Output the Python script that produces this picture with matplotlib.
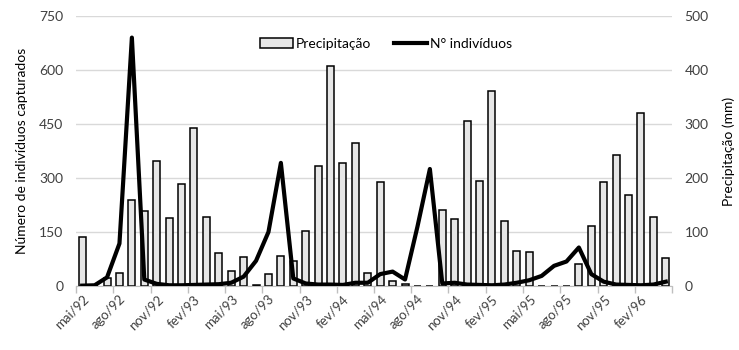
import matplotlib.pyplot as plt
import matplotlib.transforms as mtransforms
import numpy as np

plt.rcParams['font.family'] = ['Lato', 'DejaVu Sans']

# meses de mai/92 a abr/96
meses = ["mai/92", "jun/92", "jul/92", "ago/92", "set/92", "out/92", "nov/92", "dez/92",
         "jan/93", "fev/93", "mar/93", "abr/93", "mai/93", "jun/93", "jul/93", "ago/93",
         "set/93", "out/93", "nov/93", "dez/93", "jan/94", "fev/94", "mar/94", "abr/94",
         "mai/94", "jun/94", "jul/94", "ago/94", "set/94", "out/94", "nov/94", "dez/94",
         "jan/95", "fev/95", "mar/95", "abr/95", "mai/95", "jun/95", "jul/95", "ago/95",
         "set/95", "out/95", "nov/95", "dez/95", "jan/96", "fev/96", "mar/96", "abr/96"]

# precipitação (mm)
precipitacao = [90, 0, 15, 25, 160, 138, 231, 126, 188, 293, 128, 62,
                28, 54, 2, 22, 56, 46, 102, 223, 408, 228, 264, 24,
                192, 10, 3, 0, 0, 140, 125, 306, 195, 362, 120, 65,
                63, 0, 0, 0, 40, 112, 192, 243, 168, 320, 127, 52]

# número de indivíduos capturados
individuos = [1, 2, 24, 118, 690, 18, 6, 2, 2, 3, 4, 5,
              9, 26, 70, 150, 342, 21, 7, 4, 4, 3, 9, 9,
              33, 40, 18, 165, 325, 7, 9, 4, 3, 2, 4, 9,
              16, 28, 56, 68, 107, 33, 12, 4, 3, 2, 4, 12]

x = np.arange(len(meses))
cor_texto = '#404040'

fig = plt.figure(figsize=(7.39, 3.5), dpi=100)
ax = fig.add_axes([76 / 739, 64 / 350, 596 / 739, 270 / 350])
ax2 = ax.twinx()

# barras no eixo de trás (direita), linha na frente (esquerda)
barras = ax.bar(x, precipitacao, width=0.56, color='#e6e6e6', edgecolor='black',
                linewidth=1.1, label='Precipitação', zorder=2)
ax.set_ylim(0, 500)
ax.set_yticks(np.arange(0, 501, 100))
ax.yaxis.tick_right()
ax.yaxis.set_label_position('right')
ax.set_ylabel('Precipitação (mm)', fontsize=10, color='black', labelpad=10)
ax.grid(axis='y', color='#d9d9d9', linewidth=1, zorder=0)
ax.set_axisbelow(True)

linha, = ax2.plot(x, individuos, color='black', linewidth=3, solid_joinstyle='round',
                  label='N° indivíduos', zorder=3)
ax2.set_ylim(0, 750)
ax2.set_yticks(np.arange(0, 751, 150))
ax2.yaxis.tick_left()
ax2.yaxis.set_label_position('left')
ax2.set_ylabel('Número de indivíduos capturados', fontsize=10, color='black', labelpad=8)

ax.set_xlim(-0.5, len(meses) - 0.5)
ax.set_xticks(x[::3])
ax.set_xticklabels(meses[::3], rotation=45, ha='right', rotation_mode='anchor',
                   fontsize=9.5, color=cor_texto)
desloc = mtransforms.ScaledTranslation(4 / 100, -1 / 100, fig.dpi_scale_trans)
for rotulo in ax.get_xticklabels():
    rotulo.set_transform(rotulo.get_transform() + desloc)
ax.set_xticks(np.arange(-0.5, len(meses), 3), minor=True)
ax.tick_params(axis='x', which='major', length=0, pad=5)
ax.tick_params(axis='x', which='minor', length=5, color='#bfbfbf', width=1)

for a in (ax, ax2):
    a.tick_params(axis='y', length=0, labelsize=10, labelcolor=cor_texto, pad=9)
    for lado in ('top', 'left', 'right', 'bottom'):
        a.spines[lado].set_visible(False)
ax.spines['bottom'].set_visible(True)
ax.spines['bottom'].set_color('#bfbfbf')

ax2.legend([barras, linha], ['Precipitação', 'N° indivíduos'], loc='upper center',
           bbox_to_anchor=(0.52, 0.965), ncol=2, frameon=False, fontsize=10,
           handlelength=2.4, handletextpad=0.2, columnspacing=1.6)

fig.savefig('out.png', dpi=100)
